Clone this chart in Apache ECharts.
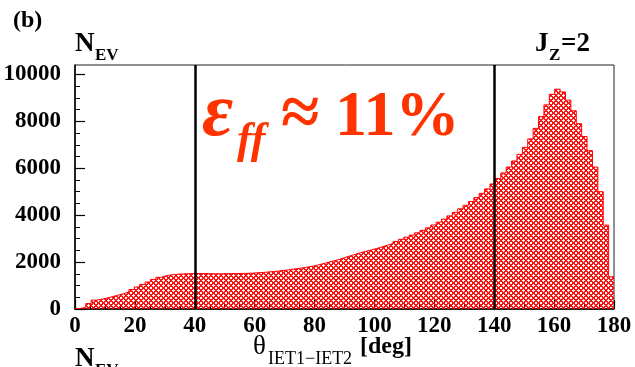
<!DOCTYPE html>
<html>
<head>
<meta charset="utf-8">
<style>
html,body{margin:0;padding:0;background:#fff}
#c{width:635px;height:367px}
</style>
<script src="https://cdn.jsdelivr.net/npm/echarts@6/dist/echarts.min.js"></script>
</head>
<body>
<div id="c"></div>
<script>
// Opening-angle distribution between the two jets, 100 bins of 1.8 deg
const binWidth = 1.8;
const counts = [
  20, 70, 230, 380, 420, 470, 530, 590, 650, 730,
  830, 940, 1050, 1150, 1260, 1350, 1420, 1460, 1480, 1495,
  1505, 1510, 1510, 1510, 1505, 1500, 1500, 1505, 1510, 1510,
  1515, 1520, 1530, 1545, 1560, 1580, 1600, 1625, 1650, 1680,
  1715, 1745, 1780, 1820, 1870, 1930, 1990, 2050, 2110, 2190,
  2260, 2330, 2400, 2460, 2520, 2580, 2650, 2720, 2790, 2880,
  2970, 3060, 3150, 3250, 3350, 3460, 3580, 3700, 3830, 3970,
  4120, 4270, 4420, 4580, 4750, 4930, 5120, 5330, 5560, 5800,
  6050, 6310, 6590, 6890, 7250, 7700, 8200, 8700, 9150, 9370,
  9250, 8900, 8450, 7900, 7350, 6750, 6050, 5000, 3575, 1370
];
const cutLines = [40, 140];
const yMajorTicks = [0, 2000, 4000, 6000, 8000, 10000];
const yMinorTicks = [500, 1000, 1500, 2500, 3000, 3500, 4500, 5000, 5500,
  6500, 7000, 7500, 8500, 9000, 9500];

const serif = '"Liberation Serif", "DejaVu Serif", serif';

// cross-hatch fill tile
function hatchTile() {
  const s = 5;
  const c = document.createElement('canvas');
  c.width = c.height = s;
  const g = c.getContext('2d');
  const img = g.createImageData(s, s);
  for (let y = 0; y < s; y++) {
    for (let x = 0; x < s; x++) {
      const a = ((x - y) % s + s) % s;
      const b = (x + y) % s;
      const k = (y * s + x) * 4;
      if (a < 2 || b < 2) {
        img.data[k] = 255; img.data[k + 1] = 0; img.data[k + 2] = 0; img.data[k + 3] = 235;
      } else {
        img.data[k + 3] = 0;
      }
    }
  }
  g.putImageData(img, 0, 0);
  return c;
}

// step outline points: left edge of every bin, then the right edge of the last one
const stepData = counts.map((v, i) => [i * binWidth, v]);
stepData.push([counts.length * binWidth, counts[counts.length - 1]]);

const chart = echarts.init(document.getElementById('c'), null, { renderer: 'canvas' });

const labelFont = { fontFamily: serif, fontWeight: 'bold', fontSize: 23, color: '#000' };

chart.setOption({
  animation: false,
  grid: { left: 75, right: 21, top: 65, bottom: 58, show: true, borderColor: '#222', borderWidth: 1 },
  xAxis: {
    type: 'value', min: 0, max: 180, interval: 20,
    axisLine: { lineStyle: { color: '#000', width: 1.5 } },
    axisTick: { inside: true, length: 9, lineStyle: { color: '#000', width: 1.2 } },
    minorTick: { show: true, splitNumber: 4, length: 5, lineStyle: { color: '#000', width: 1 } },
    splitLine: { show: false },
    axisLabel: Object.assign({ margin: 6 }, labelFont)
  },
  yAxis: [{
    type: 'value', min: 0, max: 10400,
    axisLine: { show: true, lineStyle: { color: '#000', width: 1.5 } },
    axisTick: { show: true, inside: true, length: 10, customValues: yMajorTicks, lineStyle: { color: '#000', width: 1.2 } },
    splitLine: { show: false },
    axisLabel: Object.assign({ margin: 14, customValues: yMajorTicks, formatter: v => String(v) }, labelFont)
  }, {
    type: 'value', min: 0, max: 10400, position: 'left',
    axisLine: { show: false },
    axisTick: { show: true, inside: true, length: 5, customValues: yMinorTicks, lineStyle: { color: '#000', width: 1 } },
    axisLabel: { show: false },
    splitLine: { show: false }
  }],
  series: [{
    type: 'line',
    yAxisIndex: 0,
    data: stepData,
    step: 'end',
    symbol: 'none',
    lineStyle: { color: '#ff0000', width: 1 },
    areaStyle: { color: { image: hatchTile(), repeat: 'repeat' }, opacity: 1 },
    markLine: {
      silent: true,
      symbol: ['none', 'none'],
      label: { show: false },
      lineStyle: { color: '#000', width: 2.5, type: 'solid' },
      data: cutLines.map(v => ({ xAxis: v }))
    }
  }],
  graphic: [
    { type: 'text', left: 13, top: 9, style: { text: '(b)', fontFamily: serif, fontWeight: 'bold', fontSize: 24, fill: '#000' } },
    { type: 'text', x: 75, y: 58, style: { text: 'N', fontFamily: serif, fontWeight: 'bold', fontSize: 27, fill: '#000', verticalAlign: 'bottom' } },
    { type: 'text', x: 95, y: 64, style: { text: 'EV', fontFamily: serif, fontWeight: 'bold', fontSize: 17, fill: '#000', verticalAlign: 'bottom' } },
    { type: 'text', x: 535, y: 58, style: { text: 'J', fontFamily: serif, fontWeight: 'bold', fontSize: 27, fill: '#000', verticalAlign: 'bottom' } },
    { type: 'text', x: 549, y: 64, style: { text: 'Z', fontFamily: serif, fontWeight: 'bold', fontSize: 17, fill: '#000', verticalAlign: 'bottom' } },
    { type: 'text', x: 561, y: 58, style: { text: '=2', fontFamily: serif, fontWeight: 'bold', fontSize: 27, fill: '#000', verticalAlign: 'bottom' } },
    // axis title
    { type: 'text', x: 253, y: 360, style: { text: 'θ', fontFamily: serif, fontSize: 27, fill: '#000', verticalAlign: 'bottom' } },
    { type: 'text', x: 268, y: 368, style: { text: 'IET1−IET2', fontFamily: serif, fontSize: 18, fill: '#000', verticalAlign: 'bottom' } },
    { type: 'text', x: 360, y: 359, style: { text: '[deg]', fontFamily: serif, fontWeight: 'bold', fontSize: 24, fill: '#000', verticalAlign: 'bottom' } },
    // next panel's y title, clipped by the bottom edge
    { type: 'text', x: 75, y: 373, style: { text: 'N', fontFamily: serif, fontWeight: 'bold', fontSize: 27, fill: '#000', verticalAlign: 'bottom' } },
    { type: 'text', x: 95, y: 379, style: { text: 'EV', fontFamily: serif, fontWeight: 'bold', fontSize: 17, fill: '#000', verticalAlign: 'bottom' } },
    // efficiency annotation
    { type: 'text', x: 202, y: 153, style: { text: 'ε', fontFamily: serif, fontStyle: 'italic', fontWeight: 'bold', fontSize: 76, fill: '#ff3300', verticalAlign: 'bottom' } },
    { type: 'text', x: 237, y: 164, style: { text: 'ff', fontFamily: serif, fontStyle: 'italic', fontWeight: 'bold', fontSize: 44, fill: '#ff3300', verticalAlign: 'bottom' } },
    { type: 'text', x: 281, y: 152, style: { text: '≈', fontFamily: serif, fontWeight: 'bold', fontSize: 70, fill: '#ff3300', verticalAlign: 'bottom' } },
    { type: 'text', x: 335, y: 150, style: { text: '11%', fontFamily: serif, fontWeight: 'bold', fontSize: 64, fill: '#ff3300', verticalAlign: 'bottom' } }
  ]
});
</script>
</body>
</html>
